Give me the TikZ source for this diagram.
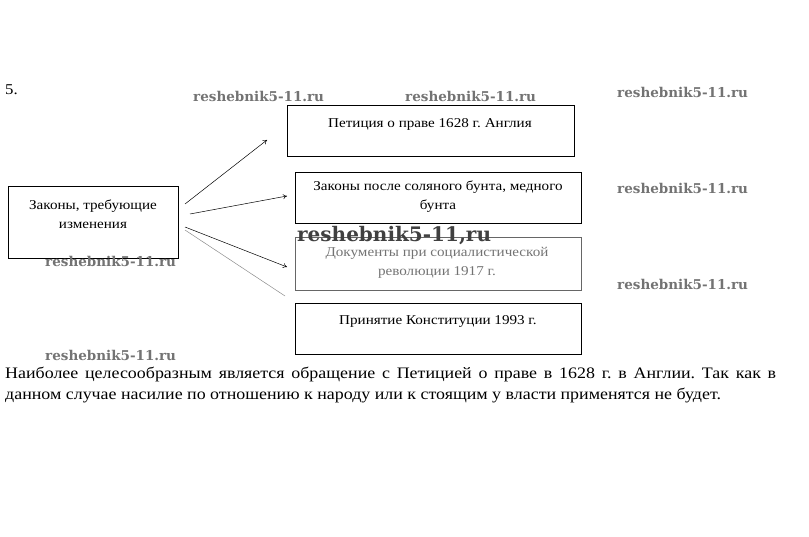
\documentclass[tikz,border=0pt]{standalone}
\usepackage{fontspec}
\usetikzlibrary{arrows.meta}
\setmainfont{Liberation Serif}[FakeStretch=1.12]
\newfontfamily\wmfont{DejaVu Serif}
\frenchspacing
\tikzset{every picture/.append style={x=1pt, y=-1pt}}
\tikzset{
    box/.style={draw, rectangle, anchor=north west, inner sep=0pt, line width=.8pt},
    txt/.style={font=\fontsize{13.5}{19}\selectfont, align=center, inner sep=0pt},
    wmark/.style={font=\wmfont\bfseries\fontsize{13.5}{13.5}\selectfont, text=black!55,
        anchor=west, inner sep=0pt},
    link/.style={-{To[length=4pt, width=5pt]}, line width=.5pt}
}

\begin{document}
\begin{tikzpicture}
	\useasboundingbox (0,0) rectangle (809,537);
	\node (num) [txt, anchor=west, font=\fontsize{15}{15}\selectfont] at (5,90) {5.};

	\node (lbox) [box, minimum width=170pt, minimum height=72pt] at (8,186) {};
	\node (petition) [box, minimum width=287pt, minimum height=51pt] at (287,105) {};
	\node (saltriot) [box, minimum width=286pt, minimum height=51pt] at (295,172) {};
	\node (soviet) [box, draw=black!60, minimum width=286pt, minimum height=53pt] at (295,237) {};
	\node (constit) [box, minimum width=286pt, minimum height=51pt] at (295,303) {};

	\node (lboxtxt) [txt] at (93,214) {Законы, требующие\\изменения};
	\node (petitiontxt) [txt] at (430,124) {Петиция о праве 1628 г. Англия};
	\node (saltriottxt) [txt] at (438,197) {Законы после соляного бунта, медного\\бунта};
	\node (soviettxt) [txt, text=black!55] at (437,263) {Документы при социалистической\\революции 1917 г.};
	\node (constittxt) [txt] at (438,321) {Принятие Конституции 1993 г.};

	\coordinate (a1s) at (185,204); \coordinate (a1e) at (267,140);
	\coordinate (a2s) at (190,214); \coordinate (a2e) at (287,196);
	\coordinate (a3s) at (185,227); \coordinate (a3e) at (287,267);
	\coordinate (a4s) at (185,230); \coordinate (a4e) at (285,296);

	\draw[link] (a1s) -- (a1e);
	\draw[link] (a2s) -- (a2e);
	\draw[link] (a3s) -- (a3e);
	\draw[line width=.5pt, black!45] (a4s) -- (a4e);

	% watermarks
	\node (wm1) [wmark] at (193,96) {reshebnik5-11.ru};
	\node (wm2) [wmark] at (405,96) {reshebnik5-11.ru};
	\node (wm3) [wmark] at (617,92) {reshebnik5-11.ru};
	\node (wm4) [wmark] at (617,188) {reshebnik5-11.ru};
	\node (wm5) [wmark] at (617,284) {reshebnik5-11.ru};
	\node (wm6) [wmark] at (45,261) {reshebnik5-11.ru};
	\node (wm7) [wmark] at (45,355) {reshebnik5-11.ru};
	\node (wm8) [wmark, font=\wmfont\bfseries\fontsize{20}{20}\selectfont, text=black!75] at (297,236) {reshebnik5-11,ru};

	\node (answer) [anchor=base west, inner sep=0pt, text width=771pt, align=justify,
		font=\fontsize{16}{21}\selectfont] at (5,378)
		{Наиболее целесообразным является обращение с Петицией о праве в 1628 г. в Англии. Так как в данном случае насилие по отношению к народу или к стоящим у власти применятся не будет.};
\end{tikzpicture}
\end{document}
